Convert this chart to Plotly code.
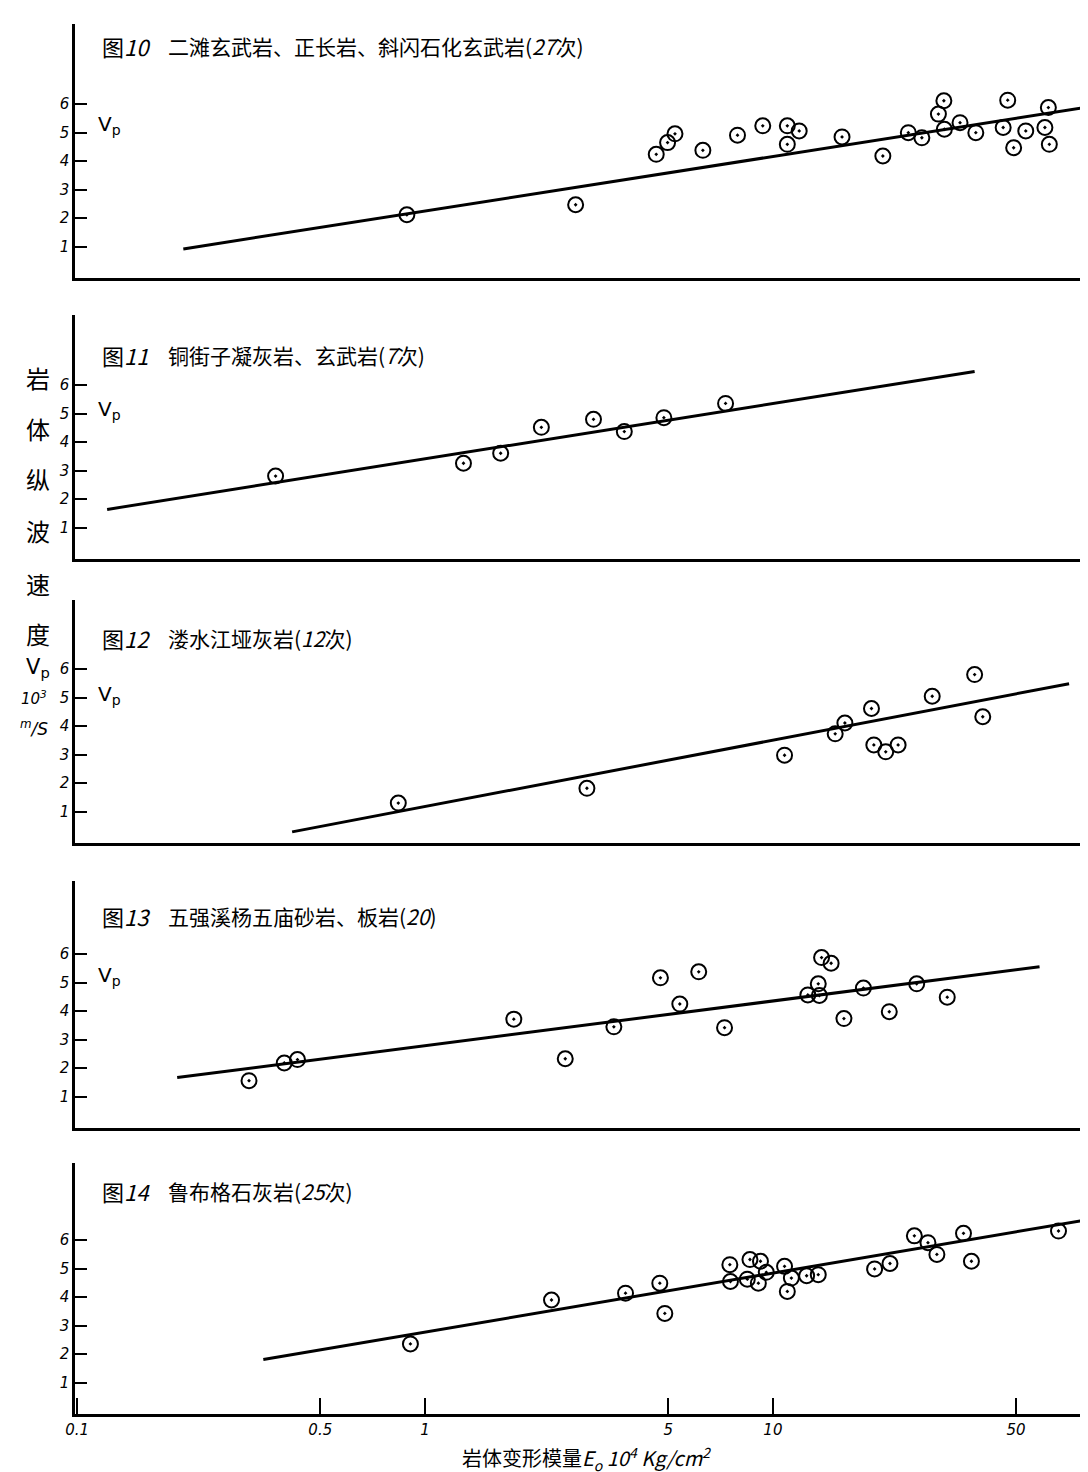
import plotly.graph_objects as go

W, H = 1088, 1472
CJK = "Noto Sans CJK SC"

# ---------------- data ----------------
fig_nums = ["图<i>10</i>", "图<i>11</i>", "图<i>12</i>", "图<i>13</i>", "图<i>14</i>"]
fig_titles = [
    "二滩玄武岩、正长岩、斜闪石化玄武岩(<i>27</i>次)",
    "铜街子凝灰岩、玄武岩(<i>7</i>次)",
    "溇水江垭灰岩(<i>12</i>次)",
    "五强溪杨五庙砂岩、板岩(<i>20</i>)",
    "鲁布格石灰岩(<i>25</i>次)",
]

p10_E = [0.887, 2.71, 4.62, 4.98, 5.23, 6.29, 7.91, 9.35, 11.0, 11.9, 11.0, 15.8, 20.7, 24.5,
         26.8, 29.9, 31.0, 31.1, 34.5, 38.3, 45.9, 47.3, 49.2, 53.3, 60.5, 61.9, 62.3]
p10_V = [2.12, 2.47, 4.24, 4.65, 4.96, 4.38, 4.91, 5.24, 5.24, 5.06, 4.59, 4.85, 4.18, 5.0,
         4.82, 5.65, 6.12, 5.12, 5.35, 5.0, 5.18, 6.14, 4.47, 5.06, 5.18, 5.88, 4.59]
p10_lineE = [0.202, 78.7]
p10_lineV = [0.92, 5.88]

p11_E = [0.372, 1.29, 1.65, 2.16, 3.05, 3.74, 4.86, 7.31]
p11_V = [2.81, 3.26, 3.61, 4.52, 4.80, 4.37, 4.86, 5.36]
p11_lineE = [0.122, 38.0]
p11_lineV = [1.64, 6.48]

p12_E = [0.838, 2.92, 10.8, 15.1, 16.1, 19.2, 19.5, 21.1, 22.9, 28.7, 38.0, 40.1]
p12_V = [1.30, 1.82, 2.98, 3.73, 4.11, 4.62, 3.34, 3.10, 3.34, 5.05, 5.81, 4.33]
p12_lineE = [0.415, 71.0]
p12_lineV = [0.29, 5.49]

p13_E = [0.312, 0.394, 0.430, 1.80, 2.53, 3.49, 4.75, 5.40, 6.12, 7.26, 12.6, 13.5, 13.8, 14.7,
         13.6, 16.0, 18.2, 21.6, 25.9, 31.7]
p13_V = [1.56, 2.18, 2.30, 3.72, 2.33, 3.45, 5.17, 4.25, 5.38, 3.42, 4.57, 4.96, 5.88, 5.68,
         4.55, 3.74, 4.81, 3.98, 4.96, 4.49]
p13_lineE = [0.194, 58.4]
p13_lineV = [1.67, 5.56]

p14_E = [0.908, 2.31, 3.77, 4.73, 4.89, 7.52, 7.55, 8.59, 9.21, 8.44, 9.08, 9.57, 10.8, 11.3,
         11.0, 12.5, 13.5, 19.6, 21.7, 25.5, 27.9, 29.6, 35.3, 37.2, 66.2]
p14_V = [2.36, 3.90, 4.14, 4.49, 3.43, 5.14, 4.55, 5.32, 5.26, 4.63, 4.49, 4.87, 5.08, 4.67,
         4.20, 4.75, 4.79, 4.99, 5.18, 6.15, 5.91, 5.50, 6.24, 5.26, 6.32]
p14_lineE = [0.343, 76.9]
p14_lineV = [1.81, 6.68]

x_tickvals = [0.1, 0.5, 1, 5, 10, 50]
x_ticktext = ["0.1", "0.5", "1", "5", "10", "50"]
y_tickvals = [1, 2, 3, 4, 5, 6]
y_ticktext = ["1", "2", "3", "4", "5", "6"]

panels = [
    (p10_E, p10_V, p10_lineE, p10_lineV),
    (p11_E, p11_V, p11_lineE, p11_lineV),
    (p12_E, p12_V, p12_lineE, p12_lineV),
    (p13_E, p13_V, p13_lineE, p13_lineV),
    (p14_E, p14_V, p14_lineE, p14_lineV),
]

# ---------------- geometry (pixels) ----------------
tops = [16, 307, 592, 873, 1155]
bottoms = [270, 551, 835, 1120, 1406]
title_y = [38, 347, 630, 908, 1183]
vp_y = [117, 402, 687, 968, None]
unit_px = 28.5
y_low = -0.1
x_left_px, x_right_px = 67, 1085
x_range = [-1.006, 1.92]

def px(x):
    return x / W

def py(y):
    return 1 - y / H

fig = go.Figure()
layout = dict(
    width=W, height=H, template="none",
    margin=dict(l=0, r=0, t=0, b=0),
    paper_bgcolor="white", plot_bgcolor="white",
    showlegend=False,
    font=dict(family=CJK, color="black"),
)

annotations = []
for i, (E, V, lE, lV) in enumerate(panels):
    k = "" if i == 0 else str(i + 1)
    xa, ya = "x" + k, "y" + k
    fig.add_trace(go.Scatter(x=lE, y=lV, mode="lines", xaxis=xa, yaxis=ya,
                             line=dict(color="black", width=3), hoverinfo="skip"))
    fig.add_trace(go.Scatter(x=E, y=V, mode="markers", xaxis=xa, yaxis=ya,
                             marker=dict(symbol="circle-open-dot", size=15,
                                         color="black", line=dict(color="black", width=2))))
    bottom_panel = (i == len(panels) - 1)
    xaxis = dict(
        domain=[px(x_left_px), px(x_right_px)], type="log", range=x_range,
        anchor=ya, showline=True, linecolor="black", linewidth=2.5,
        showgrid=False, zeroline=False, automargin=False,
        showticklabels=bottom_panel,
        ticks="inside" if bottom_panel else "",
        tickvals=x_tickvals if bottom_panel else None,
        ticktext=x_ticktext if bottom_panel else None,
        ticklen=16, tickwidth=2, tickcolor="black",
        ticklabelstandoff=0,
        tickfont=dict(family="DejaVu Sans", size=15, style="italic", color="black"),
    )
    h = bottoms[i] - tops[i]
    yaxis = dict(
        domain=[py(bottoms[i]), py(tops[i])],
        range=[y_low, y_low + h / unit_px],
        anchor=xa, showline=True, linecolor="black", linewidth=2.5,
        showgrid=False, zeroline=False, automargin=False,
        tickvals=y_tickvals, ticktext=y_ticktext,
        ticks="inside", ticklen=12, tickwidth=2, tickcolor="black",
        tickfont=dict(family="DejaVu Sans", size=15, style="italic", color="black"),
    )
    layout["xaxis" + k] = xaxis
    layout["yaxis" + k] = yaxis

    annotations.append(dict(text=fig_nums[i], x=px(92), y=py(title_y[i]), xref="paper", yref="paper",
                            xanchor="left", yanchor="middle", showarrow=False,
                            font=dict(family=CJK, size=22, color="black")))
    annotations.append(dict(text=fig_titles[i], x=px(158), y=py(title_y[i]), xref="paper", yref="paper",
                            xanchor="left", yanchor="middle", showarrow=False,
                            font=dict(family=CJK, size=21, color="black")))
    if vp_y[i] is not None:
        annotations.append(dict(text="V<sub>p</sub>", x=px(88), y=py(vp_y[i]), xref="paper", yref="paper",
                                xanchor="left", yanchor="middle", showarrow=False,
                                font=dict(family="DejaVu Sans", size=20, color="black")))

# left vertical label
left_chars = ["岩", "体", "纵", "波", "速", "度"]
left_y = [370, 420, 470, 522, 575, 625]
for ch, yy in zip(left_chars, left_y):
    annotations.append(dict(text=ch, x=px(30), y=py(yy), xref="paper", yref="paper",
                            xanchor="center", yanchor="middle", showarrow=False,
                            font=dict(family=CJK, size=24, color="black")))
annotations.append(dict(text="V<sub>p</sub>", x=px(30), y=py(660), xref="paper", yref="paper",
                        xanchor="center", yanchor="middle", showarrow=False,
                        font=dict(family="DejaVu Sans", size=21, color="black")))
annotations.append(dict(text="<i>10<sup>3</sup></i>", x=px(26), y=py(690), xref="paper", yref="paper",
                        xanchor="center", yanchor="middle", showarrow=False,
                        font=dict(family="DejaVu Sans", size=15, color="black")))
annotations.append(dict(text="<i><sup>m</sup>/S</i>", x=px(26), y=py(720), xref="paper", yref="paper",
                        xanchor="center", yanchor="middle", showarrow=False,
                        font=dict(family="DejaVu Sans", size=17, color="black")))

# bottom axis title
annotations.append(dict(text="岩体变形模量<i>E<sub>o</sub> 10<sup>4</sup> Kg/cm<sup>2</sup></i>",
                        x=px(578), y=py(1469), xref="paper", yref="paper",
                        xanchor="center", yanchor="bottom", showarrow=False,
                        font=dict(family=CJK, size=20, color="black")))

layout["annotations"] = annotations
fig.update_layout(**layout)
fig.write_html("out.html")
